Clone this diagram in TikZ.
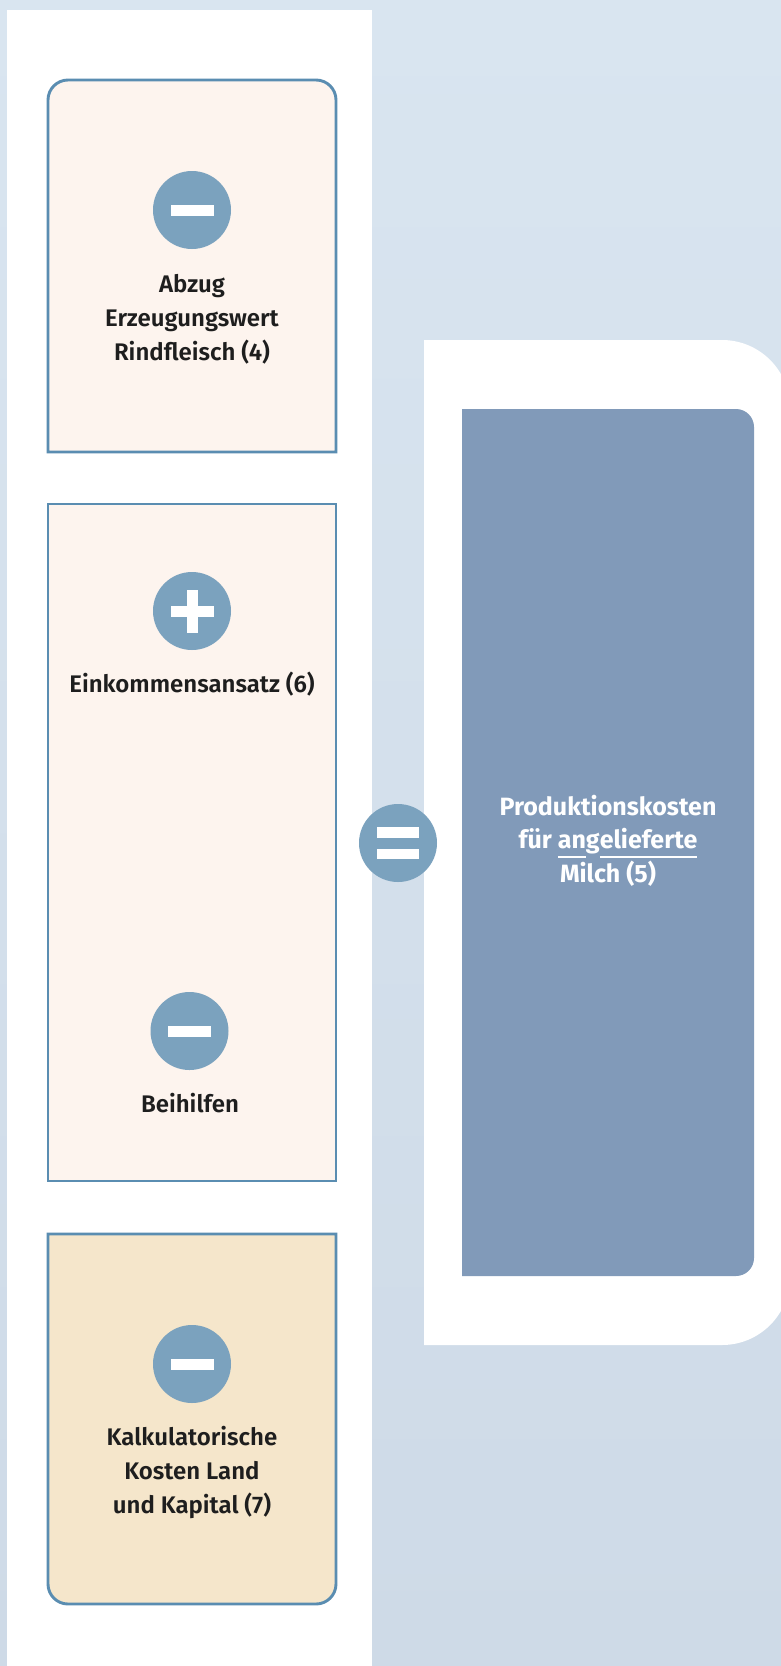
\documentclass[tikz,border=0pt]{standalone}
\usepackage{fontspec}
\setmainfont{Fira Sans}
\newfontfamily\semib{Fira Sans}[UprightFont=* SemiBold]
\newfontfamily\boldf{Fira Sans}[UprightFont=* Bold]
\definecolor{bgtop}{HTML}{D9E5F0}
\definecolor{bgbot}{HTML}{CEDAE7}
\definecolor{peach}{HTML}{FDF4EE}
\definecolor{beige}{HTML}{F5E6CB}
\definecolor{edge}{HTML}{5A8DB1}
\definecolor{signblue}{HTML}{7BA2BE}
\definecolor{darkbox}{HTML}{819AB9}
\definecolor{ink}{HTML}{1E1E1E}
\newcommand\myul[1]{\setbox0=\hbox{#1}\rlap{\rule[-9.5pt]{\wd0}{1.6pt}}\box0}
\tikzset{
  card/.style={draw=edge, line width=2.9pt},
  sign/.style={circle, fill=signblue, minimum size=78pt, inner sep=0pt},
  minusbar/.style={path picture={\fill[white] ([shift={(-21.5pt,-5.5pt)}]path picture bounding box.center) rectangle ++(43pt,11pt);}},
  plusbar/.style={path picture={\fill[white] ([shift={(-21.5pt,-5.5pt)}]path picture bounding box.center) rectangle ++(43pt,11pt);
      \fill[white] ([shift={(-5.5pt,-21.5pt)}]path picture bounding box.center) rectangle ++(11pt,43pt);}},
  eqbars/.style={path picture={\fill[white] ([shift={(-21pt,5.5pt)}]path picture bounding box.center) rectangle ++(42pt,10.5pt);
      \fill[white] ([shift={(-21pt,-16pt)}]path picture bounding box.center) rectangle ++(42pt,10.5pt);}},
  lbl/.style={text=ink, align=center, anchor=base, inner sep=0pt, font=\semib\fontsize{24}{34}\selectfont},
  wlbl/.style={text=white, align=center, anchor=base, inner sep=0pt, font=\boldf\fontsize{25}{33.5}\selectfont}
}
\begin{document}
\begin{tikzpicture}[x=1pt,y=-1pt]
\useasboundingbox (0,0) rectangle (781,1666);
\clip (0,0) rectangle (781,1666);
\shade[top color=bgtop, bottom color=bgbot] (0,0) rectangle (781,1666);
% left white panel
\fill[white] (7,10) rectangle (372,1666);
% right white panel
\fill[white] (424,340) -- (722,340) arc[start angle=270,end angle=360,radius=68]
  -- (790,1277) arc[start angle=0,end angle=90,radius=68] -- (424,1345) -- cycle;
% dark result box
\fill[darkbox] (462,409) -- (736,409) arc[start angle=270,end angle=360,radius=18]
  -- (754,1258) arc[start angle=0,end angle=90,radius=18] -- (462,1276) -- cycle;
% card 1
\filldraw[card, fill=peach] (48,452) -- (48,100) arc[start angle=180,end angle=270,radius=20]
  -- (316,80) arc[start angle=270,end angle=360,radius=20] -- (336,452) -- cycle;
% card 2
\filldraw[card, fill=peach] (48,504) rectangle (336,1181);
% card 3
\filldraw[card, fill=beige] (48,1234) -- (336,1234) -- (336,1584) arc[start angle=0,end angle=90,radius=20]
  -- (68,1604) arc[start angle=90,end angle=180,radius=20] -- cycle;
% signs
\node[sign, minusbar] (s1) at (192,210) {};
\node[sign, plusbar] (s2) at (192,611) {};
\node[sign, minusbar] (s3) at (189.5,1031) {};
\node[sign, minusbar] (s4) at (192,1364) {};
\node[sign, eqbars] (eq) at (398,843) {};
% labels (anchor base = baseline of the last line)
\node[lbl] (t1) at (192,360) {Abzug\\Erzeugungswert\\Rindfleisch (4)};
\node[lbl] (t2) at (192,692) {Einkommensansatz (6)};
\node[lbl] (t3) at (190,1112) {Beihilfen};
\node[lbl] (t4) at (192,1513) {Kalkulatorische\\Kosten Land\\und Kapital (7)};
\node[wlbl] (t5) at (608,882) {Produktionskosten\\f\"ur \myul{an}g\myul{elieferte}\\Milch (5)};
\end{tikzpicture}
\end{document}
